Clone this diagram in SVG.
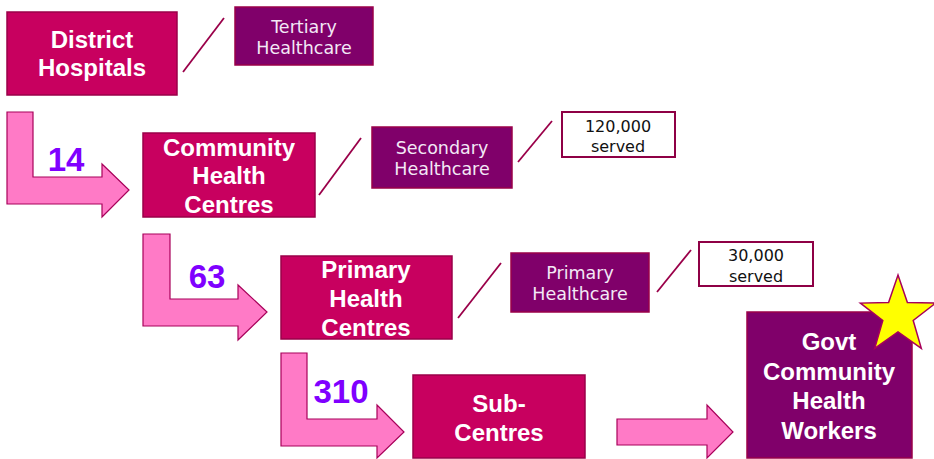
<svg xmlns="http://www.w3.org/2000/svg" width="934" height="459" viewBox="0 0 934 459">
  <style>
    .tier { fill: #C8005F; stroke: #9A0049; stroke-width: 1.5; }
    .care { fill: #80006A; stroke: #9A0049; stroke-width: 1.5; }
    .stat { fill: #FFFFFF; stroke: #8E0045; stroke-width: 2; }
    .flow { fill: #FF7AC6; stroke: #A8005A; stroke-width: 1.2; stroke-linejoin: miter; }
    .slash { stroke: #9A0049; stroke-width: 1.8; fill: none; }
    .bold { font-family: "Liberation Sans", Arial, sans-serif; font-weight: bold; font-size: 24px; fill: #FFFFFF; text-anchor: middle; }
    .light { font-family: "DejaVu Sans", sans-serif; font-size: 17.5px; fill: #F3E8F6; text-anchor: middle; }
    .dark { font-family: "DejaVu Sans", sans-serif; font-size: 16px; fill: #111111; text-anchor: middle; }
    .count { font-family: "Liberation Sans", Arial, sans-serif; font-weight: bold; font-size: 33px; fill: #7F00FF; text-anchor: middle; }
  </style>

  <!-- connectors: flow arrows and leader slashes -->
  <g id="connectors">
    <polygon class="flow" points="7,112 33,112 33,177 102,177 102,164 129,190 102,217 102,204 7,204"/>
    <polygon class="flow" points="143,234 170,234 170,299 238,299 238,285 267,312 238,340 238,326 143,326"/>
    <polygon class="flow" points="281,353 307,353 307,419 377,419 377,405 404,432 377,458 377,446 281,446"/>
    <polygon class="flow" points="617,419 707,419 707,405 733,432 707,458 707,445 617,445"/>
    <line class="slash" x1="183" y1="72" x2="224" y2="18"/>
    <line class="slash" x1="319" y1="195" x2="361" y2="138"/>
    <line class="slash" x1="518" y1="162" x2="552" y2="121"/>
    <line class="slash" x1="458" y1="318" x2="501" y2="263"/>
    <line class="slash" x1="657" y1="292" x2="691" y2="250"/>
  </g>

  <!-- facility counts -->
  <g id="counts">
    <text class="count" x="66" y="171">14</text>
    <text class="count" x="207" y="288">63</text>
    <text class="count" x="341" y="403">310</text>
  </g>

  <g id="district-hospitals">
    <rect class="tier" x="7" y="12" width="170" height="83"/>
    <text class="bold" x="92" y="48">District</text>
    <text class="bold" x="92" y="76">Hospitals</text>
  </g>

  <g id="tertiary">
    <rect class="care" x="235" y="7" width="138" height="58"/>
    <text class="light" x="304" y="33">Tertiary</text>
    <text class="light" x="304" y="54">Healthcare</text>
  </g>

  <g id="community-health-centres">
    <rect class="tier" x="143" y="133" width="172" height="84"/>
    <text class="bold" x="229" y="156">Community</text>
    <text class="bold" x="229" y="184">Health</text>
    <text class="bold" x="229" y="213">Centres</text>
  </g>

  <g id="secondary">
    <rect class="care" x="372" y="127" width="140" height="61"/>
    <text class="light" x="442" y="154">Secondary</text>
    <text class="light" x="442" y="175">Healthcare</text>
  </g>

  <g id="served-120000">
    <rect class="stat" x="562" y="112" width="113" height="45"/>
    <text class="dark" x="618" y="132">120,000</text>
    <text class="dark" x="618" y="152">served</text>
  </g>

  <g id="primary-health-centres">
    <rect class="tier" x="281" y="256" width="171" height="83"/>
    <text class="bold" x="366" y="278">Primary</text>
    <text class="bold" x="366" y="307">Health</text>
    <text class="bold" x="366" y="336">Centres</text>
  </g>

  <g id="primary">
    <rect class="care" x="511" y="253" width="138" height="59"/>
    <text class="light" x="580" y="279">Primary</text>
    <text class="light" x="580" y="300">Healthcare</text>
  </g>

  <g id="served-30000">
    <rect class="stat" x="699" y="242" width="114" height="44"/>
    <text class="dark" x="756" y="261">30,000</text>
    <text class="dark" x="756" y="282">served</text>
  </g>

  <g id="sub-centres">
    <rect class="tier" x="413" y="375" width="172" height="83"/>
    <text class="bold" x="499" y="412">Sub-</text>
    <text class="bold" x="499" y="441">Centres</text>
  </g>

  <g id="govt-community-health-workers">
    <rect class="care" x="747" y="312" width="165" height="146"/>
    <text class="bold" x="829" y="350">Govt</text>
    <text class="bold" x="829" y="380">Community</text>
    <text class="bold" x="829" y="409">Health</text>
    <text class="bold" x="829" y="439">Workers</text>
    <!-- highlight star -->
    <polygon fill="#FFFF00" stroke="#A8005A" stroke-width="1.5"
      points="898,275 907.4,302.6 935.6,303.1 913.2,320.5 921.3,348.4 898,331.8 874.7,348.4 882.8,320.5 860.4,303.1 888.6,302.6"/>
  </g>
</svg>
